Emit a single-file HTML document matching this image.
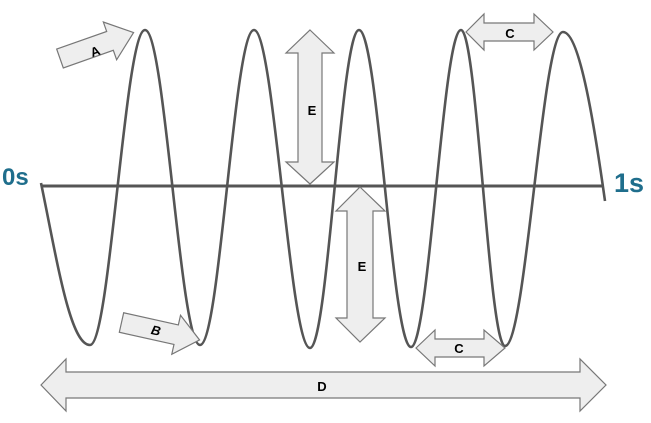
<!DOCTYPE html>
<html><head><meta charset="utf-8"><style>
html,body{margin:0;padding:0;background:#fff;}
svg{display:block;}
text{font-family:"Liberation Sans",sans-serif;font-weight:bold;}
</style></head><body>
<svg width="651" height="423" viewBox="0 0 651 423" xmlns="http://www.w3.org/2000/svg">
<line x1="41" y1="186" x2="604" y2="186" stroke="#555" stroke-width="3"/>
<path d="M41,183 C57,260 70,345 90,345 C110,345 125,30 145,30 C165,30 180,345 200,345 C220,345 234,30 254,30 C274,30 290,348 310,348 C328,348 341,30 359,30 C378,30 392,347 411,347 C429,347 443,30 461,30 C477,30 489,346 505,346 C526,346 542,32 563,32 C580,32 595,130 605,201" fill="none" stroke="#555" stroke-width="2.6"/>
<g fill="#eee" stroke="#777" stroke-width="1.2">
<polygon transform="translate(60,58.5) rotate(-19.4)" points="0,-10 53,-10 53,-20 78,0 53,20 53,10 0,10"/>
<polygon transform="translate(121.5,322.5) rotate(12.6)" points="0,-10 56,-10 56,-20 80,0 56,20 56,10 0,10"/>
<polygon points="310,30 334,53 322,53 322,162 334,162 310,184 286,162 298,162 298,53 286,53"/>
<polygon points="360,187 385,211 373,211 373,318 385,318 360,342 336,318 347,318 347,211 336,211"/>
<polygon points="466,32 484,14 484,23 534,23 534,14 553,32 534,50 534,41 484,41 484,50"/>
<polygon points="416,348 435,330 435,339 484,339 484,330 505,348 484,366 484,357 435,357 435,366"/>
<polygon points="41,385 66,359 66,372 580,372 580,359 606,385 580,411 580,398 66,398 66,411"/>
</g>
<g font-size="13" fill="#000" text-anchor="middle">
<text x="95" y="56" transform="rotate(-19.4 95 51)">A</text>
<text x="156" y="335" font-style="italic" transform="rotate(12.6 156 330)">B</text>
<text x="312" y="115">E</text>
<text x="362" y="271">E</text>
<text x="510" y="38">C</text>
<text x="459" y="353">C</text>
<text x="322" y="391">D</text>
</g>
<text x="2" y="185" font-size="24" fill="#1f6e8c">0s</text>
<text x="614" y="192" font-size="27" fill="#1f6e8c">1s</text>
</svg>
</body></html>
